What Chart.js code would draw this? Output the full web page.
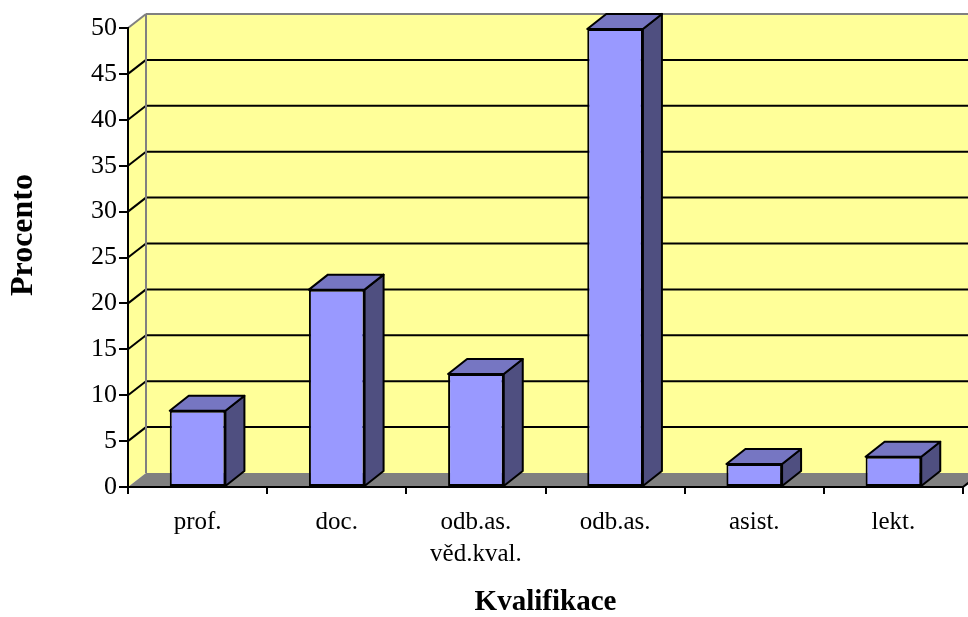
<!DOCTYPE html>
<html>
<head>
<meta charset="utf-8">
<script src="https://cdn.jsdelivr.net/npm/chart.js@4"></script>
<style>
  html, body { margin: 0; padding: 0; background: #fff; }
  #wrap { width: 968px; height: 617px; }
</style>
</head>
<body>
<div id="wrap"><canvas id="chart"></canvas></div>
<script>
const categories = ["prof.", "doc.", ["odb.as.", "věd.kval."], "odb.as.", "asist.", "lekt."];
const percents = [8.3, 21.5, 12.3, 49.9, 2.5, 3.3];
const yTicks = [0, 5, 10, 15, 20, 25, 30, 35, 40, 45, 50];

const serif = '"Times New Roman", "Liberation Serif", serif';
const wallDepth = { dx: 18, dy: 14 };
const barDepth = { dx: 19, dy: 15 };

function poly(ctx, pts, fill, stroke, lw) {
  ctx.beginPath();
  ctx.moveTo(pts[0][0], pts[0][1]);
  for (let i = 1; i < pts.length; i++) ctx.lineTo(pts[i][0], pts[i][1]);
  ctx.closePath();
  if (fill) { ctx.fillStyle = fill; ctx.fill(); }
  if (stroke) { ctx.strokeStyle = stroke; ctx.lineWidth = lw || 2; ctx.stroke(); }
}

function line(ctx, x1, y1, x2, y2, color, lw) {
  ctx.beginPath();
  ctx.moveTo(x1, y1);
  ctx.lineTo(x2, y2);
  ctx.strokeStyle = color;
  ctx.lineWidth = lw || 2;
  ctx.stroke();
}

// walls, floor and grid of the 3d box
const box3d = {
  id: "box3d",
  beforeDraw(chart) {
    const { ctx, chartArea: { left, right, top, bottom }, scales: { y } } = chart;
    const { dx, dy } = wallDepth;
    ctx.save();
    // back wall + side wall
    poly(ctx, [[left + dx, top - dy], [right + dx, top - dy], [right + dx, bottom - dy], [left + dx, bottom - dy]], "#FFFF99");
    poly(ctx, [[left, top], [left + dx, top - dy], [left + dx, bottom - dy], [left, bottom]], "#FFFF99");
    // floor
    poly(ctx, [[left, bottom], [left + dx, bottom - dy], [right + dx, bottom - dy], [right, bottom]], "#808080");
    // grid lines
    yTicks.forEach(v => {
      if (v === 0 || v === 50) return;
      const py = y.getPixelForValue(v);
      line(ctx, left, py, left + dx, py - dy, "#000");
      line(ctx, left + dx, py - dy, right + dx, py - dy, "#000");
    });
    // wall edges
    line(ctx, left, top, left + dx, top - dy, "#808080");
    line(ctx, left + dx, top - dy, right + dx, top - dy, "#808080");
    line(ctx, left + dx, top - dy, left + dx, bottom - dy, "#808080");
    line(ctx, right, bottom, right + dx, bottom - dy, "#000");
    ctx.restore();
  },
  afterDatasetsDraw(chart) {
    const { ctx } = chart;
    const { dx, dy } = barDepth;
    ctx.save();
    ctx.lineJoin = "round";
    chart.getDatasetMeta(0).data.forEach(bar => {
      const p = bar.getProps(["x", "y", "base", "width"], true);
      const l = p.x - p.width / 2, r = p.x + p.width / 2, t = p.y, b = p.base;
      poly(ctx, [[r, t], [r + dx, t - dy], [r + dx, b - dy], [r, b]], "#4F4F80", "#000", 2);
      poly(ctx, [[l, t], [l + dx, t - dy], [r + dx, t - dy], [r, t]], "#7676C2", "#000", 2);
    });
    ctx.restore();
  },
  afterDraw(chart) {
    const { ctx } = chart;
    ctx.save();
    ctx.translate(24, 235);
    ctx.rotate(-Math.PI / 2);
    ctx.font = "bold 32px " + serif;
    ctx.fillStyle = "#000";
    ctx.textAlign = "center";
    ctx.textBaseline = "middle";
    ctx.fillText("Procento", 0, 0);
    ctx.restore();
  }
};

new Chart(document.getElementById("chart"), {
  type: "bar",
  data: {
    labels: categories,
    datasets: [{
      data: percents,
      backgroundColor: "#9999FF",
      borderColor: "#000",
      borderWidth: 2,
      borderSkipped: false,
      categoryPercentage: 1,
      barPercentage: 0.4
    }]
  },
  options: {
    responsive: true,
    maintainAspectRatio: false,
    animation: false,
    layout: { padding: { top: 28, right: 5, left: 0, bottom: 0 } },
    plugins: { legend: { display: false }, tooltip: { enabled: false } },
    scales: {
      x: {
        afterFit: s => { s.height = 130; },
        grid: { drawOnChartArea: false, drawTicks: true, tickLength: 7, color: "#000", lineWidth: 2 },
        border: { color: "#000", width: 2 },
        ticks: { color: "#000", font: { family: serif, size: 25, lineHeight: "32px" }, padding: 12, maxRotation: 0 },
        title: { display: true, text: "Kvalifikace", color: "#000", font: { family: serif, size: 29, weight: "bold", lineHeight: 1 }, padding: { top: 0, bottom: 0 } }
      },
      y: {
        min: 0,
        max: 50,
        afterFit: s => { s.width = 128; },
        afterBuildTicks: s => { s.ticks = yTicks.map(v => ({ value: v })); },
        grid: { drawOnChartArea: false, drawTicks: true, tickLength: 9, color: "#000", lineWidth: 2 },
        border: { color: "#000", width: 2 },
        ticks: { color: "#000", font: { family: serif, size: 26 }, padding: 2 }
      }
    }
  },
  plugins: [box3d]
});
</script>
</body>
</html>
